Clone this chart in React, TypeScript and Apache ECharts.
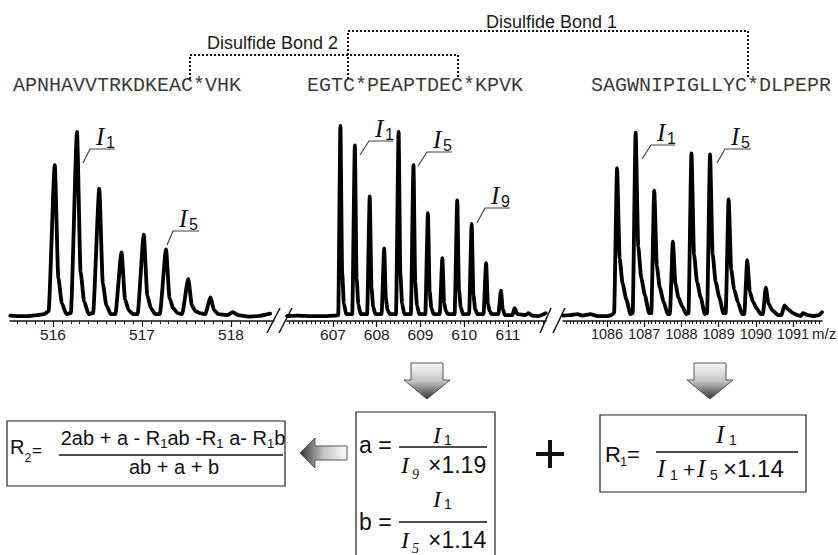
import React, { useEffect, useRef } from 'react';
import * as echarts from 'echarts';

const W = 838;
const H = 555;

const SANS = "'Liberation Sans', Arial, Helvetica, sans-serif";
const SERIF = "'Liberation Serif', 'Times New Roman', serif";
const MONO = "'Liberation Mono', 'Courier New', monospace";

// ---------- data ----------
const peptides = ['APNHAVVTRKDKEAC*VHK', 'EGTC*PEAPTDEC*KPVK', 'SAGWNIPIGLLYC*DLPEPR'];
const bondLabels = ['Disulfide Bond 1', 'Disulfide Bond 2'];

const ticks1 = [516, 517, 518];
const ticks2 = [607, 608, 609, 610, 611];
const ticks3 = [1086, 1087, 1088, 1089, 1090, 1091];

const range1 = [515.517, 518.483];
const range2 = [605.949, 611.869];
const range3 = [1084.817, 1091.78];

// m/z, relative intensity (profile)
const spectrum1: [number, number][] = [
  [515.52, 1.5], [515.62, 1], [515.72, 1], [515.82, 2], [515.9, 3],
  [515.95, 6], [516.02, 155], [516.06, 40], [516.1, 14], [516.15, 3],
  [516.2, 4], [516.27, 189], [516.31, 46], [516.35, 16], [516.4, 3],
  [516.45, 4], [516.52, 131], [516.56, 34], [516.6, 12], [516.65, 3],
  [516.7, 3], [516.77, 66], [516.81, 18], [516.85, 7], [516.9, 3],
  [516.95, 3], [517.02, 84], [517.06, 22], [517.1, 9], [517.15, 3],
  [517.2, 3], [517.27, 69], [517.31, 19], [517.35, 9], [517.4, 4],
  [517.45, 3], [517.52, 39], [517.56, 12], [517.6, 6], [517.65, 4],
  [517.71, 3], [517.77, 20], [517.81, 7], [517.86, 3],
  [517.96, 2], [518.02, 5], [518.08, 2],
  [518.2, 0.5], [518.3, 1], [518.44, 3.5],
];

const spectrum2: [number, number][] = [
  [605.95, 1], [606.2, 1.5], [606.5, 1], [606.8, 1], [607.05, 1.5],
  [607.12, 2], [607.17, 195], [607.21, 45], [607.25, 14], [607.3, 3],
  [607.44, 3], [607.5, 175], [607.54, 40], [607.58, 13], [607.63, 3],
  [607.78, 3], [607.84, 123], [607.88, 30], [607.92, 10], [607.97, 3],
  [608.11, 3], [608.17, 70], [608.21, 18], [608.25, 7], [608.3, 3],
  [608.44, 3], [608.5, 189], [608.54, 44], [608.58, 14], [608.63, 3],
  [608.78, 3], [608.84, 155], [608.88, 36], [608.92, 12], [608.97, 3],
  [609.11, 3], [609.17, 106], [609.21, 26], [609.25, 9], [609.3, 3],
  [609.44, 3], [609.5, 60], [609.54, 15], [609.58, 6], [609.63, 3],
  [609.78, 3], [609.84, 119], [609.88, 28], [609.92, 10], [609.97, 3],
  [610.11, 3], [610.17, 95], [610.21, 23], [610.25, 8], [610.3, 3],
  [610.44, 3], [610.5, 55], [610.54, 14], [610.58, 6], [610.63, 3],
  [610.78, 3], [610.84, 27], [610.88, 8], [610.93, 2],
  [611.1, 2], [611.15, 9], [611.22, 3],
  [611.4, 2], [611.47, 4], [611.55, 1.5],
  [611.7, 1], [611.86, 4],
];

const spectrum3: [number, number][] = [
  [1084.82, 1.5], [1085.0, 2], [1085.2, 3], [1085.35, 1.5], [1085.55, 3], [1085.75, 1], [1086.0, 1], [1086.12, 2],
  [1086.19, 4], [1086.27, 152], [1086.34, 60], [1086.42, 34], [1086.52, 18], [1086.63, 3],
  [1086.69, 4], [1086.77, 188], [1086.84, 72], [1086.92, 40], [1087.02, 22], [1087.13, 4],
  [1087.19, 4], [1087.27, 129], [1087.34, 52], [1087.42, 30], [1087.52, 16], [1087.63, 3],
  [1087.69, 3], [1087.77, 77], [1087.84, 34], [1087.92, 20], [1088.02, 11], [1088.13, 3],
  [1088.19, 4], [1088.27, 167], [1088.34, 64], [1088.42, 36], [1088.52, 20], [1088.63, 3],
  [1088.69, 4], [1088.77, 166], [1088.84, 64], [1088.92, 36], [1089.02, 20], [1089.13, 4],
  [1089.19, 4], [1089.27, 120], [1089.34, 48], [1089.42, 28], [1089.52, 15], [1089.63, 3],
  [1089.69, 3], [1089.77, 58], [1089.84, 26], [1089.92, 16], [1090.02, 9], [1090.13, 3],
  [1090.19, 3], [1090.27, 30], [1090.34, 14], [1090.44, 7], [1090.6, 2],
  [1090.69, 2], [1090.77, 12], [1090.86, 8], [1091.0, 4], [1091.12, 2],
  [1091.2, 1], [1091.27, 4], [1091.4, 2],
  [1091.55, 1], [1091.7, 2], [1091.78, 5],
];

// ---------- helpers ----------
let ctx2d: CanvasRenderingContext2D | null = null;
function measure(t: string, size: number, family: string, italic?: boolean) {
  if (!ctx2d) ctx2d = document.createElement('canvas').getContext('2d');
  ctx2d!.font = `${italic ? 'italic ' : ''}${size}px ${family}`;
  return ctx2d!.measureText(t).width;
}

function txt(x: number, y: number, text: string, size: number, family: string, opts: any = {}) {
  return {
    type: 'text',
    x,
    y,
    silent: true,
    style: {
      text,
      fontSize: size,
      fontFamily: family,
      fontStyle: opts.italic ? 'italic' : 'normal',
      fontWeight: opts.weight || 'normal',
      fill: opts.fill || '#111',
      align: opts.align || 'left',
      verticalAlign: 'middle',
    },
  };
}

function seg(pts: number[][], opts: any = {}) {
  return {
    type: 'polyline',
    silent: true,
    shape: { points: pts },
    style: {
      stroke: opts.stroke || '#111',
      lineWidth: opts.lw || 1.2,
      lineDash: opts.dash || null,
      fill: null,
      lineCap: opts.cap || 'butt',
    },
  };
}

type Piece = { t: string; size: number; fam: string; it?: boolean; dy?: number; dx?: number };
function row(cx: number, y: number, pieces: Piece[]) {
  const widths = pieces.map((p) => measure(p.t, p.size, p.fam, p.it) + (p.dx || 0));
  const total = widths.reduce((a, b) => a + b, 0);
  let x = cx - total / 2;
  const out: any[] = [];
  pieces.forEach((p, i) => {
    x += p.dx || 0;
    out.push(txt(x, y + (p.dy || 0), p.t, p.size, p.fam, { italic: p.it }));
    x += widths[i] - (p.dx || 0);
  });
  return out;
}

function minorTicks(r: number[]) {
  const out: number[] = [];
  for (let v = Math.ceil(r[0] * 10); v <= Math.floor(r[1] * 10); v++) out.push(v / 10);
  return out;
}

function buildOption() {
  const lefts = [10, 287, 563];
  const widths = [264, 259, 259];
  const ranges = [range1, range2, range3];
  const majors = [ticks1, ticks2, ticks3];
  const spectra = [spectrum1, spectrum2, spectrum3];
  const labelSizes = [15.5, 15.5, 14.5];

  const grid = lefts.map((l, i) => ({ left: l, width: widths[i], top: 121, height: 200 }));
  const xAxis: any[] = [];
  ranges.forEach((r, i) => {
    xAxis.push({
      type: 'value',
      gridIndex: i,
      min: r[0],
      max: r[1],
      position: 'bottom',
      axisLine: { show: true, onZero: false, lineStyle: { color: '#111', width: 1.5 } },
      axisTick: { show: true, customValues: majors[i], length: 6, lineStyle: { color: '#111', width: 1.2 } },
      axisLabel: {
        show: true,
        customValues: majors[i],
        formatter: (v: number) => String(v),
        fontSize: labelSizes[i],
        fontFamily: SANS,
        color: '#1a1a1a',
        margin: 5,
      },
      splitLine: { show: false },
    });
  });
  ranges.forEach((r, i) => {
    xAxis.push({
      type: 'value',
      gridIndex: i,
      min: r[0],
      max: r[1],
      position: 'bottom',
      axisLine: { show: false, onZero: false },
      axisTick: { show: true, customValues: minorTicks(r), length: 3, lineStyle: { color: '#111', width: 1 } },
      axisLabel: { show: false },
      splitLine: { show: false },
    });
  });
  const yAxis = ranges.map((_, i) => ({ type: 'value', gridIndex: i, min: -4, max: 200, show: false }));
  const series = spectra.map((d, i) => ({
    type: 'line',
    xAxisIndex: i,
    yAxisIndex: i,
    data: d,
    showSymbol: false,
    smooth: 0.2,
    smoothMonotone: 'x',
    clip: false,
    lineStyle: { color: '#000', width: 3.8, join: 'round', cap: 'round' },
  }));

  const g: any[] = [];

  // peptides
  const pepX = [13, 307, 591];
  peptides.forEach((p, i) => g.push(txt(pepX[i], 85, p, 20, MONO, { fill: '#3a3a3a' })));

  // disulfide bonds
  g.push(seg([[190, 79], [190, 55], [458, 55], [458, 79]], { dash: [2, 2], lw: 2 }));
  g.push(seg([[348, 79], [348, 31], [748, 31], [748, 79]], { dash: [2, 2], lw: 2 }));
  g.push(txt(486, 22, bondLabels[0], 18, SANS, { fill: '#1a1a1a' }));
  g.push(txt(338, 43, bondLabels[1], 18, SANS, { fill: '#1a1a1a', align: 'right' }));

  // peak annotations
  const leaders = [
    { s: '1', hx0: 90, hx1: 115, hy: 149, sx: 83, sy: 163 },
    { s: '5', hx0: 173, hx1: 199, hy: 231, sx: 167, sy: 245 },
    { s: '1', hx0: 369, hx1: 393, hy: 141, sx: 360, sy: 155 },
    { s: '5', hx0: 427, hx1: 452, hy: 152, sx: 418, sy: 166 },
    { s: '9', hx0: 485, hx1: 510, hy: 208, sx: 477, sy: 223 },
    { s: '1', hx0: 651, hx1: 675, hy: 145, sx: 642, sy: 159 },
    { s: '5', hx0: 725, hx1: 751, hy: 149, sx: 717, sy: 163 },
  ];
  leaders.forEach((l) => {
    g.push(seg([[l.sx, l.sy], [l.hx0, l.hy], [l.hx1, l.hy]], { stroke: '#444', lw: 1.2 }));
    g.push(txt(l.hx0 + 6, l.hy - 13, 'I', 25, SERIF, { italic: true }));
    g.push(txt(l.hx0 + 16, l.hy - 7, l.s, 16, SANS));
  });

  // axis breaks
  [[267, 333, 280, 308], [279, 333, 292, 308], [540, 333, 551, 308], [553, 333, 565, 308]].forEach((b) =>
    g.push(seg([[b[0], b[1]], [b[2], b[3]]], { lw: 1.5 }))
  );
  g.push(txt(812, 333, 'm/z', 15, SANS, { fill: '#1a1a1a' }));

  // block arrows
  const downGrad = () =>
    new echarts.graphic.LinearGradient(0, 0, 0, 1, [
      { offset: 0, color: '#fbfbfb' },
      { offset: 0.5, color: '#c4c4c4' },
      { offset: 1, color: '#353535' },
    ]);
  [427, 710].forEach((cx) =>
    g.push({
      type: 'polygon',
      silent: true,
      shape: {
        points: [
          [cx - 16, 363], [cx + 16, 363], [cx + 16, 380], [cx + 23, 380], [cx, 399], [cx - 23, 380], [cx - 16, 380],
        ],
      },
      style: { fill: downGrad(), stroke: '#555', lineWidth: 1 },
    })
  );
  g.push({
    type: 'polygon',
    silent: true,
    shape: {
      points: [[300, 453], [315, 438], [315, 446], [347, 446], [347, 460], [315, 460], [315, 468]],
    },
    style: {
      fill: new echarts.graphic.LinearGradient(0, 0, 1, 0, [
        { offset: 0, color: '#353535' },
        { offset: 0.5, color: '#c4c4c4' },
        { offset: 1, color: '#fbfbfb' },
      ]),
      stroke: '#555',
      lineWidth: 1,
    },
  });

  // boxes
  const box = (x0: number, y0: number, x1: number, y1: number) => ({
    type: 'rect',
    silent: true,
    shape: { x: x0, y: y0, width: x1 - x0, height: y1 - y0 },
    style: { fill: null, stroke: '#222', lineWidth: 1.2 },
  });
  g.push(box(7, 421, 285, 486));
  g.push(box(356, 412, 495, 562));
  g.push(box(600, 415, 806, 492));

  // R2 formula
  g.push(txt(10, 447, 'R', 20, SANS));
  g.push(txt(24.5, 458, '2', 12, SANS));
  g.push(txt(32, 450, '=', 17, SANS));
  const N = 20;
  const S = 13;
  row(173, 438, [
    { t: '2ab + a - R', size: N, fam: SANS },
    { t: '1', size: S, fam: SANS, dy: 5 },
    { t: 'ab -R', size: N, fam: SANS },
    { t: '1', size: S, fam: SANS, dy: 5 },
    { t: ' a- R', size: N, fam: SANS },
    { t: '1', size: S, fam: SANS, dy: 5 },
    { t: 'b', size: N, fam: SANS },
  ]).forEach((e) => g.push(e));
  g.push(seg([[59, 455], [283, 455]], { lw: 1.4 }));
  g.push(txt(174, 467, 'ab + a + b', 20, SANS, { align: 'center' }));

  // a and b formulas
  g.push(txt(359, 445, 'a =', 23, SANS));
  g.push(seg([[399, 447], [487, 447]], { lw: 1.4 }));
  g.push(txt(433, 435, 'I', 24, SERIF, { italic: true }));
  g.push(txt(444, 440, '1', 14, SANS));
  g.push(txt(401, 465, 'I', 24, SERIF, { italic: true }));
  g.push(txt(412, 474, '9', 14, SERIF, { italic: true }));
  g.push(txt(428, 465, '×1.19', 23, SANS));

  g.push(txt(359, 522, 'b =', 23, SANS));
  g.push(seg([[399, 522], [487, 522]], { lw: 1.4 }));
  g.push(txt(433, 499, 'I', 24, SERIF, { italic: true }));
  g.push(txt(444, 504, '1', 14, SANS));
  g.push(txt(401, 540, 'I', 24, SERIF, { italic: true }));
  g.push(txt(412, 548, '5', 14, SERIF, { italic: true }));
  g.push(txt(428, 540, '×1.14', 23, SANS));

  // plus sign
  g.push(seg([[536, 454], [564, 454]], { lw: 4 }));
  g.push(seg([[550, 440], [550, 468]], { lw: 4 }));

  // R1 formula
  g.push(txt(605, 454, 'R', 22, SANS));
  g.push(txt(620, 461, '1', 13, SANS));
  g.push(txt(627, 454, '=', 22, SANS));
  g.push(seg([[656, 452], [798, 452]], { lw: 1.4 }));
  g.push(txt(716, 434, 'I', 25, SERIF, { italic: true }));
  g.push(txt(729, 440, '1', 14, SANS));
  g.push(txt(657, 468, 'I', 25, SERIF, { italic: true }));
  g.push(txt(670, 475, '1', 14, SANS));
  g.push(txt(689, 469, '+', 21, SANS, { align: 'center' }));
  g.push(txt(697, 468, 'I', 25, SERIF, { italic: true }));
  g.push(txt(710, 475, '5', 14, SANS));
  g.push(txt(723, 468, '×1.14', 24, SANS));

  return {
    animation: false,
    backgroundColor: '#ffffff',
    grid,
    xAxis,
    yAxis,
    series,
    graphic: { elements: g },
  };
}

export default function App() {
  const ref = useRef<HTMLDivElement>(null);
  useEffect(() => {
    document.body.style.margin = '0';
    const chart = echarts.init(ref.current!, null, { renderer: 'svg', width: W, height: H });
    chart.setOption(buildOption() as any);
    return () => chart.dispose();
  }, []);
  return <div ref={ref} style={{ width: W, height: H, background: '#fff' }} />;
}
